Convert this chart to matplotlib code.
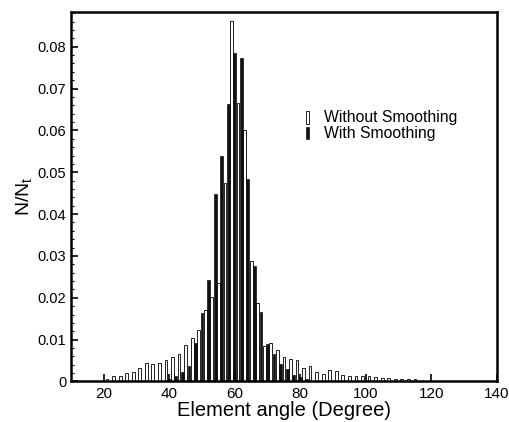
import numpy as np
import matplotlib
matplotlib.use('Agg')
import matplotlib.pyplot as plt
from matplotlib.patches import Rectangle
from matplotlib.ticker import MultipleLocator

plt.rcParams['font.family'] = ['Liberation Sans', 'DejaVu Sans']
plt.rcParams['mathtext.fontset'] = 'custom'
plt.rcParams['mathtext.rm'] = 'Liberation Sans'

# Without smoothing (white bars), odd angles
angle_w = np.arange(21, 117, 2)
frac_w = [0.0005, 0.0012, 0.0012, 0.0021, 0.0023, 0.0032, 0.0044, 0.0042,
          0.0043, 0.0051, 0.0059, 0.0065, 0.0087, 0.0103, 0.0122, 0.0172,
          0.0203, 0.0235, 0.0475, 0.0862, 0.0666, 0.0600, 0.0289, 0.0187,
          0.0085, 0.0091, 0.0075, 0.0058, 0.0053, 0.0051, 0.0032, 0.0038,
          0.0023, 0.0019, 0.0027, 0.0026, 0.0016, 0.0013, 0.0012, 0.0012,
          0.0013, 0.0010, 0.0009, 0.0008, 0.0007, 0.0007, 0.0006, 0.0005]

# With smoothing (black bars), even angles
angle_b = np.arange(40, 86, 2)
frac_b = [0.0006, 0.0013, 0.0022, 0.0037, 0.0091, 0.0163, 0.0243, 0.0447,
          0.0539, 0.0664, 0.0786, 0.0774, 0.0484, 0.0277, 0.0165, 0.0090,
          0.0066, 0.0042, 0.0029, 0.0016, 0.0010, 0.0005, 0.0002]

xticks = [20, 40, 60, 80, 100, 120, 140]
yticks = [0, 0.01, 0.02, 0.03, 0.04, 0.05, 0.06, 0.07, 0.08]
ytick_labels = ['0', '0.01', '0.02', '0.03', '0.04', '0.05', '0.06', '0.07', '0.08']

fig = plt.figure(figsize=(5.09, 4.22), dpi=100)
ax = fig.add_axes([0.1395, 0.096, 0.8365, 0.8756])

ax.bar(angle_w, frac_w, width=0.85, color='white', edgecolor='#222222',
       linewidth=0.7, label='Without Smoothing')
ax.bar(angle_b, frac_b, width=0.85, color='#111111', edgecolor='#111111',
       linewidth=0.5, label='With Smoothing')

ax.set_xlim(10, 140)
ax.set_ylim(0, 0.0883)
ax.set_xticks(xticks)
ax.set_yticks(yticks)
ax.set_yticklabels(ytick_labels)
ax.yaxis.set_minor_locator(MultipleLocator(0.002))
ax.tick_params(which='major', direction='in', length=5, width=1.2, labelsize=10.5)
ax.tick_params(axis='x', labelsize=11, pad=4)
ax.tick_params(which='minor', direction='in', length=2.5, width=0.8)
for s in ax.spines.values():
    s.set_linewidth(1.8)

ax.set_xlabel('Element angle (Degree)', fontsize=14.5, labelpad=0)
ax.set_ylabel('N/N$_\\mathrm{t}$', fontsize=14, labelpad=2)

# legend with narrow tall markers
ax.add_patch(Rectangle((0.552, 0.697), 0.007, 0.034, transform=ax.transAxes,
                       facecolor='white', edgecolor='#222222', linewidth=0.7))
ax.add_patch(Rectangle((0.552, 0.655), 0.007, 0.034, transform=ax.transAxes,
                       facecolor='#111111', edgecolor='#111111', linewidth=0.5))
ax.text(0.595, 0.714, 'Without Smoothing', transform=ax.transAxes,
        fontsize=11.3, va='center', ha='left')
ax.text(0.595, 0.672, 'With Smoothing', transform=ax.transAxes,
        fontsize=11.3, va='center', ha='left')

fig.savefig('out.png', dpi=100)
